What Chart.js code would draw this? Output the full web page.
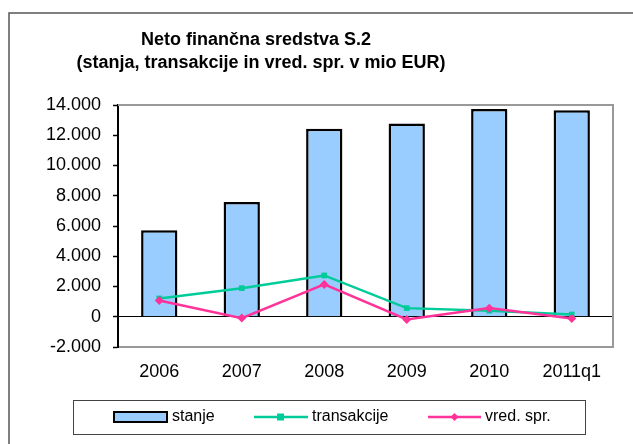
<!DOCTYPE html>
<html>
<head>
<meta charset="utf-8">
<script src="https://cdn.jsdelivr.net/npm/chart.js@4/dist/chart.umd.min.js"></script>
<style>
html,body{margin:0;padding:0;background:#fff;}
#wrap{width:633px;height:444px;}
</style>
</head>
<body>
<div id="wrap"><canvas id="c" width="633" height="444"></canvas></div>
<script>
const titleLines = ['Neto finančna sredstva S.2', '(stanja, transakcije in vred. spr. v mio EUR)'];
const categories = ['2006', '2007', '2008', '2009', '2010', '2011q1'];
const stanje = [5720, 7580, 12430, 12780, 13730, 13660];
const transakcije = [1210, 1890, 2730, 570, 400, 150];
const vredSpr = [1080, -90, 2140, -180, 570, -110];
const seriesNames = ['stanje', 'transakcije', 'vred. spr.'];
const yTicks = [-2000, 0, 2000, 4000, 6000, 8000, 10000, 12000, 14000];

const FONT = '"Liberation Sans", Arial, sans-serif';
function fmt(v){ const s = String(Math.abs(v)).replace(/\B(?=(\d{3})+(?!\d))/g, '.'); return (v < 0 ? '-' : '') + s; }

const decor = {
  id: 'decor',
  beforeDraw(chart){
    const ctx = chart.ctx;
    ctx.save();
    ctx.fillStyle = '#fff';
    ctx.fillRect(0,0,chart.width,chart.height);
    ctx.restore();
  },
  afterDraw(chart){
    const ctx = chart.ctx;
    const a = chart.chartArea;
    ctx.save();
    // outer frame
    ctx.strokeStyle = '#555';
    ctx.lineWidth = 1.5;
    ctx.strokeRect(9, 13, 700, 500);
    // plot border top/right
    ctx.strokeStyle = '#999';
    ctx.lineWidth = 2;
    ctx.beginPath();
    ctx.moveTo(a.left, a.top);
    ctx.lineTo(a.right, a.top);
    ctx.lineTo(a.right, a.bottom);
    ctx.stroke();
    // title
    ctx.fillStyle = '#000';
    ctx.font = 'bold 18px ' + FONT;
    ctx.textAlign = 'center';
    ctx.textBaseline = 'middle';
    ctx.fillText(titleLines[0], 256, 40);
    ctx.fillText(titleLines[1], 261, 63);
    // legend box
    ctx.strokeStyle = '#444';
    ctx.lineWidth = 1;
    ctx.strokeRect(73.5, 400.5, 512, 34);
    const ly = 417;
    ctx.font = '16px ' + FONT;
    ctx.textAlign = 'left';
    const ds = chart.data.datasets;
    // stanje swatch
    ctx.fillStyle = ds[0].backgroundColor;
    ctx.fillRect(114, 412, 53, 10);
    ctx.strokeStyle = '#000';
    ctx.lineWidth = 2;
    ctx.strokeRect(114, 412, 53, 10);
    ctx.fillStyle = '#000';
    ctx.fillText(ds[0].label, 172, ly);
    // transakcije
    ctx.strokeStyle = ds[1].borderColor;
    ctx.lineWidth = 2.5;
    ctx.beginPath(); ctx.moveTo(254, ly); ctx.lineTo(308, ly); ctx.stroke();
    ctx.fillStyle = ds[1].borderColor;
    ctx.fillRect(277, ly-3.5, 7, 7);
    ctx.fillStyle = '#000';
    ctx.fillText(ds[1].label, 312, ly);
    // vred. spr.
    ctx.strokeStyle = ds[2].borderColor;
    ctx.beginPath(); ctx.moveTo(428, ly); ctx.lineTo(481, ly); ctx.stroke();
    ctx.fillStyle = ds[2].borderColor;
    ctx.beginPath(); ctx.moveTo(454.5, ly-4); ctx.lineTo(458.5, ly); ctx.lineTo(454.5, ly+4); ctx.lineTo(450.5, ly); ctx.closePath(); ctx.fill();
    ctx.fillStyle = '#000';
    ctx.fillText(ds[2].label, 485, ly);
    ctx.restore();
  }
};

new Chart(document.getElementById('c'), {
  data: {
    labels: categories,
    datasets: [
      { type: 'bar', label: seriesNames[0], data: stanje, backgroundColor: '#99CCFF', borderColor: '#000', borderWidth: 2.5, barPercentage: 0.44, categoryPercentage: 1, order: 3 },
      { type: 'line', label: seriesNames[1], data: transakcije, borderColor: '#00CC99', backgroundColor: '#00CC99', borderWidth: 2.5, pointStyle: 'rect', pointRadius: 4, pointBorderWidth: 0, tension: 0, order: 2 },
      { type: 'line', label: seriesNames[2], data: vredSpr, borderColor: '#FF3399', backgroundColor: '#FF3399', borderWidth: 2.5, pointStyle: 'rectRot', pointRadius: 4.5, pointBorderWidth: 0, tension: 0, order: 1 }
    ]
  },
  options: {
    responsive: false,
    animation: false,
    devicePixelRatio: 1,
    layout: { padding: { left: 0, right: 20, top: 105, bottom: 57 } },
    plugins: { legend: { display: false }, title: { display: false }, tooltip: { enabled: false } },
    scales: {
      x: {
        offset: true,
        grid: { display: false, drawTicks: false },
        border: { display: true, color: '#999', width: 2 },
        ticks: { color: '#000', font: { family: FONT, size: 18 }, padding: 14, maxRotation: 0 },
        afterFit(s){ s.height = 40; }
      },
      y: {
        min: -2000, max: 14000,
        afterBuildTicks(s){ s.ticks = yTicks.map(v => ({ value: v })); },
        grid: {
          drawOnChartArea: true,
          color: c => (c.tick && c.tick.value === 0) ? '#000' : 'rgba(0,0,0,0)',
          lineWidth: 1,
          drawTicks: true, tickLength: 5, tickColor: '#000', tickWidth: 1.5
        },
        border: { display: true, color: '#000', width: 2 },
        ticks: { color: '#000', font: { family: FONT, size: 18 }, padding: 12, callback: v => fmt(v) },
        afterFit(s){ s.width = 118; }
      }
    }
  },
  plugins: [decor]
});
</script>
</body>
</html>
